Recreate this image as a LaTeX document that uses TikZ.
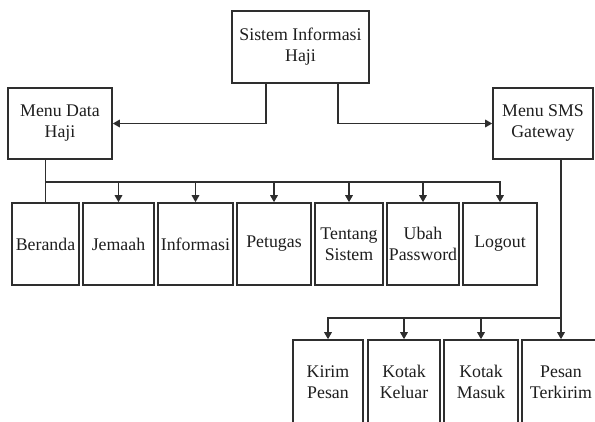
\documentclass[tikz,border=0pt]{standalone}
\usepackage{fontspec}
\setmainfont{Liberation Serif}
\usetikzlibrary{arrows.meta,calc}
\definecolor{ln}{HTML}{2E2E2E}
\definecolor{tx}{HTML}{1E1E1E}
\begin{document}
\begin{tikzpicture}[x=1pt,y=-1pt,
  box/.style={draw=ln,line width=1.6pt,rectangle,inner sep=0pt,align=center,
    text=tx,font=\fontsize{17.8}{21}\selectfont},
  conn/.style={draw=ln,line width=1.5pt},
  arr/.style={conn,-{Triangle[length=7pt,width=7.5pt]}}]
\useasboundingbox (0,0) rectangle (595,421);
\fill[white] (0,0) rectangle (595,421);
\clip (0,0) rectangle (595,421);
% top level
\node[box,minimum width=137pt,minimum height=72pt] (top) at (300.5,47) {Sistem Informasi\\Haji};
\node[box,minimum width=104pt,minimum height=71pt] (mdh) at (60,123.5) {Menu Data\\Haji};
\node[box,minimum width=100pt,minimum height=71pt] (sms) at (543,123.5) {Menu SMS\\Gateway};
% row 1
\node[box,minimum width=67pt,minimum height=82pt] (beranda) at (45.5,244) {Beranda};
\node[box,minimum width=71pt,minimum height=82pt] (jemaah) at (118.5,244) {Jemaah};
\node[box,minimum width=75pt,minimum height=82pt] (informasi) at (195.5,244) {Informasi};
\node[box,minimum width=74pt,minimum height=82pt] (petugas) at (274,244) {Petugas};
\node[box,minimum width=68pt,minimum height=82pt] (tentang) at (349,244) {Tentang\\Sistem};
\node[box,minimum width=72pt,minimum height=82pt] (ubah) at (423,244) {Ubah\\Password};
\node[box,minimum width=74pt,minimum height=82pt] (logout) at (500,244) {Logout};
% row 2
\node[box,minimum width=70pt,minimum height=84pt] (kirim) at (328,382) {Kirim\\Pesan};
\node[box,minimum width=72pt,minimum height=84pt] (keluar) at (404,382) {Kotak\\Keluar};
\node[box,minimum width=74pt,minimum height=84pt] (masuk) at (481,382) {Kotak\\Masuk};
\node[box,minimum width=78pt,minimum height=84pt] (terkirim) at (561,382) {Pesan\\Terkirim};
% connectors from top
\draw[arr] ($(top.south)+(-34.5,0)$) |- (mdh.east);
\draw[arr] ($(top.south)+(37.5,0)$) |- (sms.west);
% bus 1
\coordinate (bus) at (0,182);
\draw[conn] (mdh.south -| beranda.north) -- (beranda.north);
\draw[arr] (beranda.north |- bus) -- (logout.north |- bus) -- (logout.north);
\foreach \n in {jemaah,informasi,petugas,tentang,ubah}
  \draw[arr] (\n.north |- bus) -- (\n.north);
% bus 2
\coordinate (bustwo) at (0,318);
\draw[arr] (sms.south -| terkirim.north) -- (terkirim.north);
\draw[arr] (terkirim.north |- bustwo) -| (kirim.north);
\foreach \n in {keluar,masuk}
  \draw[arr] (\n.north |- bustwo) -- (\n.north);
\end{tikzpicture}
\end{document}
